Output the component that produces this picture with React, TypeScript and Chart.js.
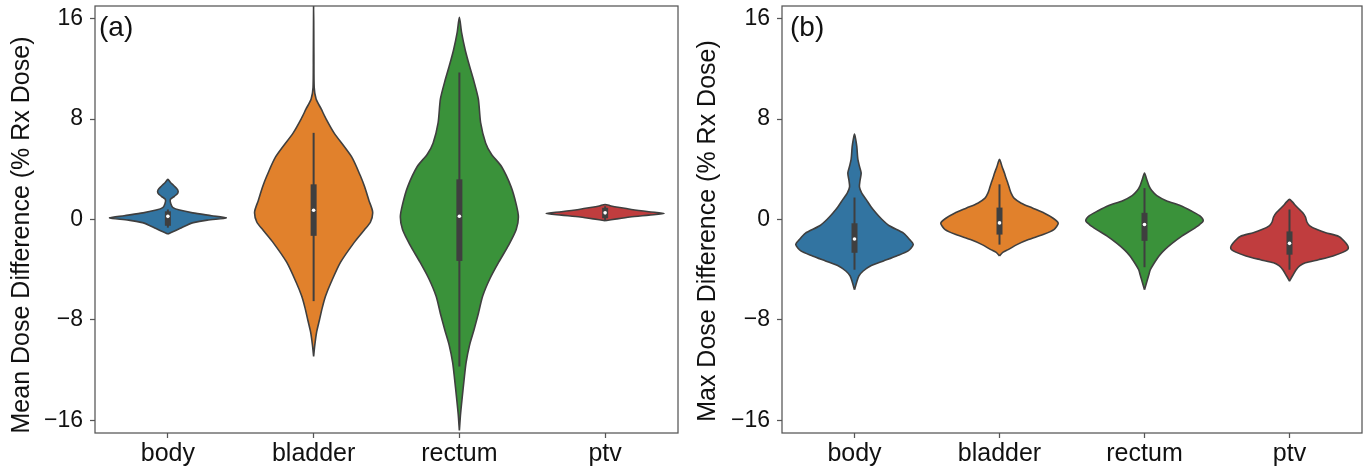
import { useEffect, useRef } from 'react';
import { Chart, registerables } from 'chart.js';

Chart.register(...registerables);

// ---------- data ----------
const CATEGORIES = ['body', 'bladder', 'rectum', 'ptv'];
const Y_TICKS = [-16, -8, 0, 8, 16];
const COLORS = ['#3274a1', '#e1812c', '#3a923a', '#c03d3e'];
const OUTLINE = '#3f3f3f';

// violin profiles: [value, half-width (category units)]
const MEAN_BODY = [[-1.15, 0], [-1.0, 0.03], [-0.7, 0.085], [-0.45, 0.13], [-0.25, 0.175], [-0.05, 0.27], [0.12, 0.4], [0.3, 0.3], [0.53, 0.17], [0.75, 0.08], [0.95, 0.035], [1.25, 0.02], [1.6, 0.017], [1.85, 0.045], [2.1, 0.068], [2.35, 0.068], [2.65, 0.045], [2.95, 0.018], [3.2, 0]];
const MEAN_BLADDER = [[-10.9, 0], [-10.0, 0.008], [-9.0, 0.02], [-8.0, 0.04], [-7.0, 0.06], [-6.1, 0.082], [-5.0, 0.12], [-3.4, 0.185], [-1.8, 0.28], [-0.8, 0.35], [-0.2, 0.39], [0.6, 0.405], [1.5, 0.38], [2.6, 0.35], [3.5, 0.32], [5.0, 0.26], [6.9, 0.14], [8.0, 0.086], [8.8, 0.052], [9.6, 0.017], [10.5, 0.004], [13.0, 0.002], [17.5, 0]];
const MEAN_RECTUM = [[-16.8, 0], [-15.5, 0.008], [-14.1, 0.02], [-12.8, 0.032], [-11.4, 0.046], [-10.0, 0.07], [-8.8, 0.1], [-7.5, 0.13], [-6.1, 0.16], [-4.7, 0.21], [-3.4, 0.27], [-2.0, 0.34], [-0.8, 0.39], [0.2, 0.405], [1.2, 0.39], [2.6, 0.355], [4.2, 0.29], [5.2, 0.22], [6.1, 0.18], [7.7, 0.146], [9.6, 0.13], [11.0, 0.1], [12.2, 0.07], [13.5, 0.04], [14.9, 0.015], [16.1, 0]];
const MEAN_PTV = [[-0.1, 0], [0.05, 0.08], [0.2, 0.17], [0.35, 0.3], [0.48, 0.405], [0.62, 0.3], [0.8, 0.18], [0.95, 0.1], [1.08, 0.04], [1.2, 0]];

const MAX_BODY = [[-5.6, 0], [-5.0, 0.015], [-4.5, 0.03], [-4.1, 0.06], [-3.7, 0.11], [-3.3, 0.2], [-2.9, 0.29], [-2.5, 0.37], [-2.0, 0.405], [-1.6, 0.38], [-1.1, 0.34], [-0.5, 0.24], [0.0, 0.19], [0.5, 0.15], [1.0, 0.115], [1.6, 0.08], [2.1, 0.05], [2.6, 0.034], [3.1, 0.038], [3.7, 0.046], [4.2, 0.035], [4.8, 0.023], [5.8, 0.016], [6.4, 0.008], [6.8, 0]];
const MAX_BLADDER = [[-2.9, 0], [-2.6, 0.025], [-2.4, 0.06], [-2.0, 0.12], [-1.6, 0.2], [-1.2, 0.3], [-0.8, 0.375], [-0.3, 0.405], [0.1, 0.37], [0.5, 0.31], [0.9, 0.23], [1.3, 0.15], [1.7, 0.1], [2.1, 0.08], [2.5, 0.068], [2.9, 0.057], [3.3, 0.045], [3.7, 0.034], [4.2, 0.018], [4.5, 0.01], [4.8, 0]];
const MAX_RECTUM = [[-5.6, 0], [-5.0, 0.015], [-4.4, 0.03], [-4.0, 0.04], [-3.5, 0.065], [-2.9, 0.1], [-2.4, 0.14], [-1.9, 0.19], [-1.3, 0.26], [-0.8, 0.33], [-0.4, 0.38], [-0.1, 0.405], [0.3, 0.38], [0.7, 0.32], [1.1, 0.25], [1.5, 0.15], [1.9, 0.085], [2.3, 0.05], [2.7, 0.03], [3.2, 0.015], [3.7, 0]];
const MAX_PTV = [[-4.9, 0], [-4.5, 0.02], [-4.0, 0.046], [-3.7, 0.07], [-3.45, 0.11], [-3.2, 0.2], [-2.9, 0.3], [-2.6, 0.37], [-2.3, 0.405], [-1.9, 0.39], [-1.35, 0.34], [-1.05, 0.25], [-0.8, 0.19], [-0.5, 0.14], [-0.2, 0.12], [0.2, 0.11], [0.55, 0.09], [0.9, 0.06], [1.2, 0.035], [1.4, 0.02], [1.6, 0]];

// inner box plots
const MEAN_WLO = [-0.65, -6.5, -11.7, -0.05];
const MEAN_Q1 = [-0.5, -1.3, -3.3, 0.1];
const MEAN_MED = [0.25, 0.74, 0.26, 0.53];
const MEAN_Q3 = [0.65, 2.8, 3.2, 0.93];
const MEAN_WHI = [0.8, 6.9, 11.7, 1.05];

const MAX_WLO = [-4.0, -2.0, -3.8, -4.0];
const MAX_Q1 = [-2.65, -1.2, -1.7, -2.8];
const MAX_MED = [-1.55, -0.27, -0.4, -1.9];
const MAX_Q3 = [-0.3, 0.95, 0.53, -0.95];
const MAX_WHI = [1.75, 2.8, 2.5, 0.8];

const FONT = '"Liberation Sans", Arial, Helvetica, sans-serif';
const TEXT = '#111111';
const FRAME = '#555555';

function violinPoints(profile: number[][], i: number) {
  const right = profile.map(([v, w]) => ({ x: i + w, y: v }));
  const left = profile.slice(0, -1).reverse().map(([v, w]) => ({ x: i - w, y: v }));
  return [...right, ...left];
}

function makeDatasets(profiles: number[][][], wlo: number[], q1: number[], med: number[], q3: number[], whi: number[]) {
  const ds: any[] = [];
  profiles.forEach((p, i) => {
    ds.push({
      data: violinPoints(p, i),
      borderColor: OUTLINE,
      borderWidth: 1.6,
      backgroundColor: COLORS[i],
      fill: 'shape',
      tension: 0.25,
      pointRadius: 0,
      order: 3,
    });
    ds.push({
      data: [{ x: i, y: wlo[i] }, { x: i, y: whi[i] }],
      borderColor: OUTLINE,
      borderWidth: 2,
      borderCapStyle: 'butt',
      fill: false,
      pointRadius: 0,
      order: 2,
    });
    ds.push({
      data: [{ x: i, y: q1[i] }, { x: i, y: q3[i] }],
      borderColor: OUTLINE,
      borderWidth: 6,
      borderCapStyle: 'butt',
      fill: false,
      pointRadius: 0,
      order: 1,
    });
  });
  ds.push({
    data: med.map((m, i) => ({ x: i, y: m })),
    showLine: false,
    pointRadius: 1.8,
    pointBackgroundColor: '#ffffff',
    pointBorderWidth: 0,
    borderWidth: 0,
    order: 0,
  });
  return ds;
}

const panelPlugin = {
  id: 'panel',
  afterDraw(chart: any, _args: any, opts: any) {
    const { ctx, chartArea: a } = chart;
    ctx.save();
    ctx.strokeStyle = FRAME;
    ctx.lineWidth = 1.25;
    ctx.strokeRect(a.left, a.top, a.right - a.left, a.bottom - a.top);
    ctx.fillStyle = TEXT;
    ctx.font = `28px ${FONT}`;
    ctx.textAlign = 'left';
    ctx.textBaseline = 'middle';
    ctx.fillText(opts.label, a.left + opts.labelDx, opts.labelY);
    ctx.translate(opts.titleX, opts.titleY);
    ctx.rotate(-Math.PI / 2);
    ctx.textAlign = 'center';
    ctx.font = `25px ${FONT}`;
    ctx.fillText(opts.title, 0, 0);
    ctx.restore();
  },
};

function makeConfig(datasets: any[], yWidth: number, padRight: number, panel: any) {
  return {
    type: 'line',
    data: { datasets },
    options: {
      responsive: false,
      animation: false,
      events: [],
      layout: { padding: { top: 6, right: padRight, left: 0, bottom: 0 } },
      plugins: {
        legend: { display: false },
        tooltip: { enabled: false },
        panel,
      },
      scales: {
        x: {
          type: 'linear',
          min: -0.5,
          max: 3.5,
          afterBuildTicks: (s: any) => {
            s.ticks = CATEGORIES.map((_, i) => ({ value: i }));
          },
          afterFit: (s: any) => {
            s.height = 35;
            s.paddingLeft = 0;
            s.paddingRight = 0;
          },
          ticks: {
            callback: (v: number) => CATEGORIES[v],
            font: { family: FONT, size: 25 },
            color: TEXT,
            padding: 1,
            maxRotation: 0,
            autoSkip: false,
          },
          grid: { drawOnChartArea: false, drawTicks: true, tickLength: 5, tickWidth: 1.25, tickColor: FRAME },
          border: { display: false },
        },
        y: {
          type: 'linear',
          min: -17,
          max: 17,
          afterBuildTicks: (s: any) => {
            s.ticks = Y_TICKS.map((v) => ({ value: v }));
          },
          afterFit: (s: any) => {
            s.width = yWidth;
            s.paddingTop = 0;
            s.paddingBottom = 0;
          },
          ticks: {
            callback: (v: number) => (v < 0 ? '\u2212' + Math.abs(v) : String(v)),
            font: { family: FONT, size: 23 },
            color: TEXT,
            padding: 7,
          },
          grid: { drawOnChartArea: false, drawTicks: true, tickLength: 5, tickWidth: 1.25, tickColor: FRAME },
          border: { display: false },
        },
      },
    },
    plugins: [panelPlugin],
  };
}

export default function App() {
  const leftRef = useRef<HTMLCanvasElement | null>(null);
  const rightRef = useRef<HTMLCanvasElement | null>(null);

  useEffect(() => {
    const left = new Chart(
      leftRef.current as HTMLCanvasElement,
      makeConfig(
        makeDatasets([MEAN_BODY, MEAN_BLADDER, MEAN_RECTUM, MEAN_PTV], MEAN_WLO, MEAN_Q1, MEAN_MED, MEAN_Q3, MEAN_WHI),
        95,
        5,
        { label: '(a)', labelDx: 4, labelY: 28, title: 'Mean Dose Difference (% Rx Dose)', titleX: 22.5, titleY: 235 }
      ) as any
    );
    const right = new Chart(
      rightRef.current as HTMLCanvasElement,
      makeConfig(
        makeDatasets([MAX_BODY, MAX_BLADDER, MAX_RECTUM, MAX_PTV], MAX_WLO, MAX_Q1, MAX_MED, MAX_Q3, MAX_WHI),
        99,
        1,
        { label: '(b)', labelDx: 8, labelY: 28, title: 'Max Dose Difference (% Rx Dose)', titleX: 25, titleY: 231 }
      ) as any
    );
    return () => {
      left.destroy();
      right.destroy();
    };
  }, []);

  return (
    <div style={{ position: 'absolute', left: 0, top: 0, width: 1366, height: 468, display: 'flex', background: '#fff' }}>
      <canvas ref={leftRef} width={683} height={468} style={{ display: 'block' }} />
      <canvas ref={rightRef} width={683} height={468} style={{ display: 'block' }} />
    </div>
  );
}
